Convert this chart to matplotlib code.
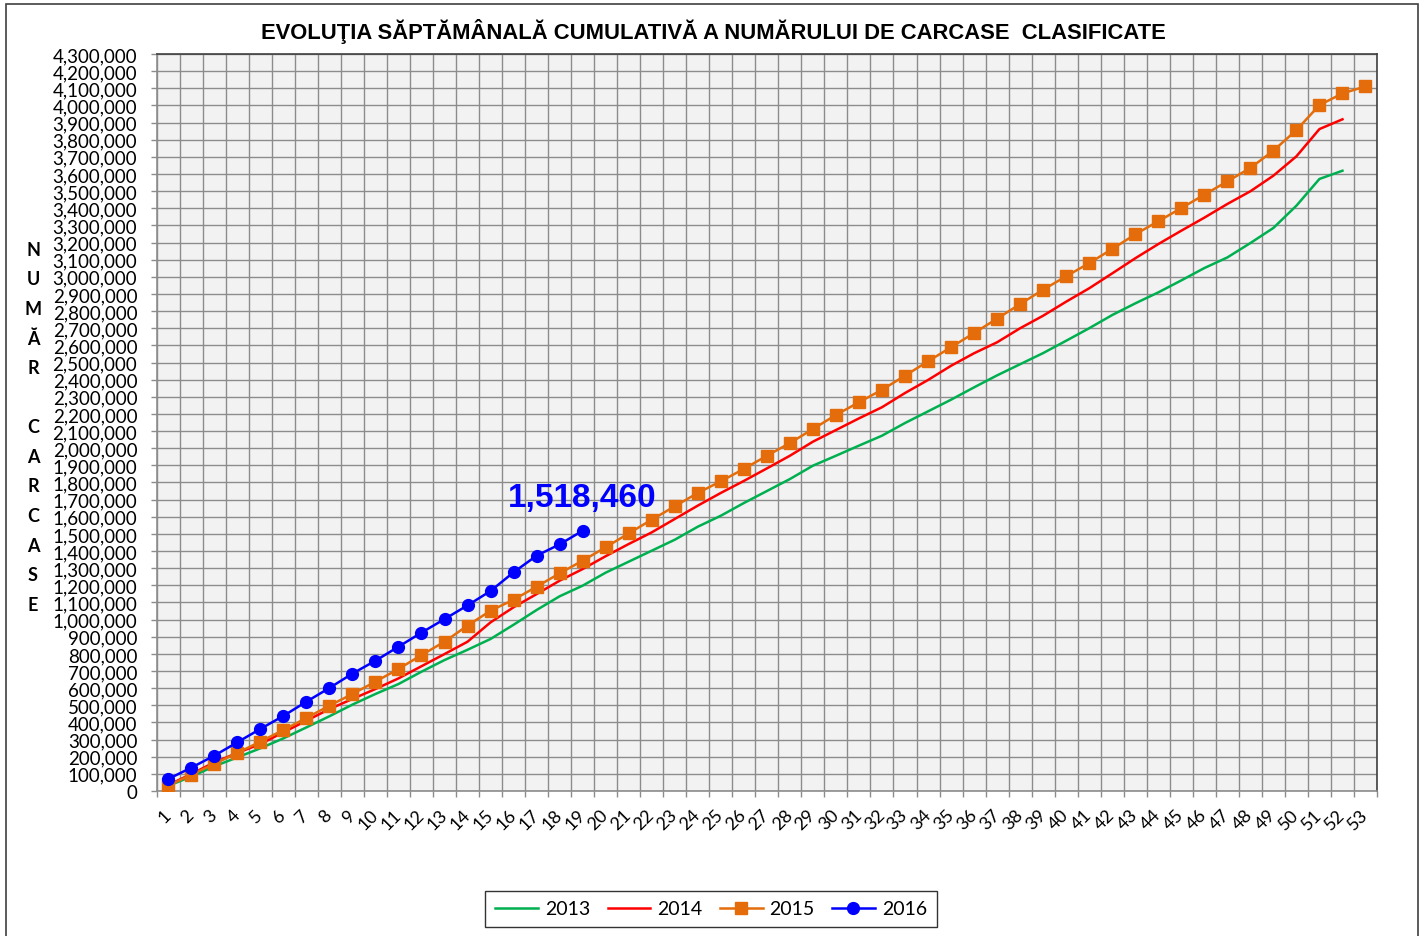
import matplotlib
matplotlib.use("Agg")
import matplotlib.pyplot as plt
from matplotlib.ticker import FuncFormatter, FixedLocator
from matplotlib.patches import Rectangle
import numpy as np

# ---------------- data ----------------
weeks = list(range(1, 54))
week_labels = [str(w) for w in weeks]

y2013 = [30000, 84000, 144000, 196000, 249000, 307000, 371000, 436000, 504000, 566000,
         624000, 696000, 764000, 824000, 887000, 970000, 1056000, 1136000, 1198000, 1274000,
         1338000, 1402000, 1466000, 1542000, 1606000, 1680000, 1750000, 1820000, 1898000, 1956000,
         2015000, 2073000, 2147000, 2215000, 2283000, 2355000, 2425000, 2490000, 2555000, 2627000,
         2700000, 2777000, 2845000, 2909000, 2979000, 3051000, 3113000, 3197000, 3285000, 3415000,
         3571000, 3619000]

y2014 = [35000, 99000, 167000, 222000, 274000, 342000, 410000, 478000, 537000, 595000,
         657000, 728000, 799000, 871000, 984000, 1072000, 1149000, 1227000, 1295000, 1370000,
         1441000, 1509000, 1587000, 1665000, 1739000, 1809000, 1882000, 1956000, 2038000, 2106000,
         2174000, 2239000, 2322000, 2398000, 2481000, 2554000, 2618000, 2700000, 2773000, 2855000,
         2933000, 3020000, 3108000, 3191000, 3269000, 3345000, 3425000, 3499000, 3590000, 3703000,
         3862000, 3919000]

y2015 = [31000, 95000, 158000, 222000, 288000, 356000, 426000, 498000, 566000, 638000,
         712000, 793000, 871000, 965000, 1052000, 1116000, 1192000, 1270000, 1344000, 1422000,
         1503000, 1583000, 1661000, 1739000, 1807000, 1879000, 1956000, 2030000, 2112000, 2194000,
         2268000, 2341000, 2423000, 2507000, 2589000, 2672000, 2756000, 2841000, 2925000, 3003000,
         3080000, 3162000, 3248000, 3324000, 3401000, 3479000, 3557000, 3635000, 3736000, 3856000,
         4002000, 4070000, 4111000]

y2016 = [70000, 136000, 206000, 284000, 362000, 438000, 521000, 601000, 685000, 760000,
         842000, 924000, 1003000, 1083000, 1167000, 1276000, 1373000, 1439000, 1518460]

series_names = ["2013", "2014", "2015", "2016"]
title = "EVOLUŢIA SĂPTĂMÂNALĂ CUMULATIVĂ A NUMĂRULUI DE CARCASE  CLASIFICATE"
ylabel_letters = ["N", "U", "M", "Ă", "R", "", "C", "A", "R", "C", "A", "S", "E"]

# ---------------- figure ----------------
W, H = 1424, 937
fig = plt.figure(figsize=(W / 100, H / 100), dpi=100)
fig.patch.set_facecolor("white")

def fx(px):
    return px / W

def fy(py):
    return 1 - py / H

L, R, T, B = 156.7, 1377, 55, 792
ax = fig.add_axes([fx(L), fy(B), fx(R) - fx(L), fy(T) - fy(B)])
ax.set_facecolor("#F2F2F2")

x = np.array(weeks)
ax.plot(x[:len(y2013)], y2013, color="#00B050", lw=1.8, label=series_names[0], zorder=3)
ax.plot(x[:len(y2014)], y2014, color="#FF0000", lw=1.8, label=series_names[1], zorder=4)
ax.plot(x[:len(y2015)], y2015, color="#E46C0A", lw=1.8, marker="s", markersize=8,
        label=series_names[2], zorder=5)
ax.plot(x[:len(y2016)], y2016, color="#0000FF", lw=1.8, marker="o", markersize=8.5,
        label=series_names[3], zorder=6)

ax.set_xlim(0.5, 53.5)
ax.set_ylim(0, 4300000)

# gridlines at category boundaries and every 100,000
ax.xaxis.set_major_locator(FixedLocator(np.arange(0.5, 54, 1.0)))
ax.xaxis.set_minor_locator(FixedLocator(x))
ax.xaxis.set_major_formatter(FuncFormatter(lambda v, p: ""))
ax.xaxis.set_minor_formatter(FuncFormatter(lambda v, p: week_labels[int(round(v)) - 1]
                                           if 1 <= round(v) <= len(week_labels) else ""))
ax.yaxis.set_major_locator(FixedLocator(np.arange(0, 4300001, 100000)))
ax.yaxis.set_major_formatter(FuncFormatter(lambda v, p: f"{int(v):,}"))

ax.grid(True, which="major", color="#8C8C8C", lw=1.0, zorder=0)
ax.set_axisbelow(True)

tick_font = "Lato"
ax.tick_params(axis="x", which="major", length=4, color="#8C8C8C", width=1)
ax.tick_params(axis="x", which="minor", length=0, pad=15)
ax.tick_params(axis="y", which="major", length=4, color="#8C8C8C", width=1, pad=10)
for lab in ax.get_yticklabels():
    lab.set_fontfamily(tick_font)
    lab.set_fontsize(13.5)
for lab in ax.xaxis.get_minorticklabels():
    lab.set_fontfamily(tick_font)
    lab.set_fontsize(13)
    lab.set_rotation(45)
    lab.set_rotation_mode("anchor")
    lab.set_ha("right")
    lab.set_va("center")

ax.spines["left"].set_color("#8C8C8C")
ax.spines["bottom"].set_color("#8C8C8C")
ax.spines["top"].set_color("#404040")
ax.spines["right"].set_color("#404040")
for s in ax.spines.values():
    s.set_linewidth(1.2)

# annotation of last 2016 value
ax.annotate(f"{y2016[-1]:,}", xy=(len(y2016), y2016[-1]), xytext=(0, 13),
            textcoords="offset points", ha="center", va="bottom",
            fontsize=24, fontweight="bold", color="#0000FF",
            family="Liberation Sans", zorder=7)

# title
fig.text(fx(713), fy(32), title, ha="center", va="center", fontsize=15.8,
         fontweight="bold", family="Liberation Sans")

# vertical stacked y label
for i, ch in enumerate(ylabel_letters):
    if ch:
        fig.text(fx(33), fy(250 + 29.6 * i), ch, ha="center", va="center",
                 fontsize=13, fontweight="bold", family=["Lato", "DejaVu Sans"])

# legend
leg = fig.legend(loc="center", bbox_to_anchor=(fx(711), fy(910)), ncol=4,
                 frameon=True, fancybox=False, edgecolor="black",
                 prop={"family": tick_font, "size": 14}, handlelength=2.2,
                 handletextpad=0.35, columnspacing=0.9, borderpad=0.5)
leg.get_frame().set_linewidth(1.0)

# outer chart border
fig.patches.append(Rectangle((fx(6), fy(945)), fx(1418) - fx(6), fy(5) - fy(945),
                             transform=fig.transFigure, fill=False,
                             edgecolor="#404040", lw=1.2))

fig.savefig("out.png", dpi=100)
